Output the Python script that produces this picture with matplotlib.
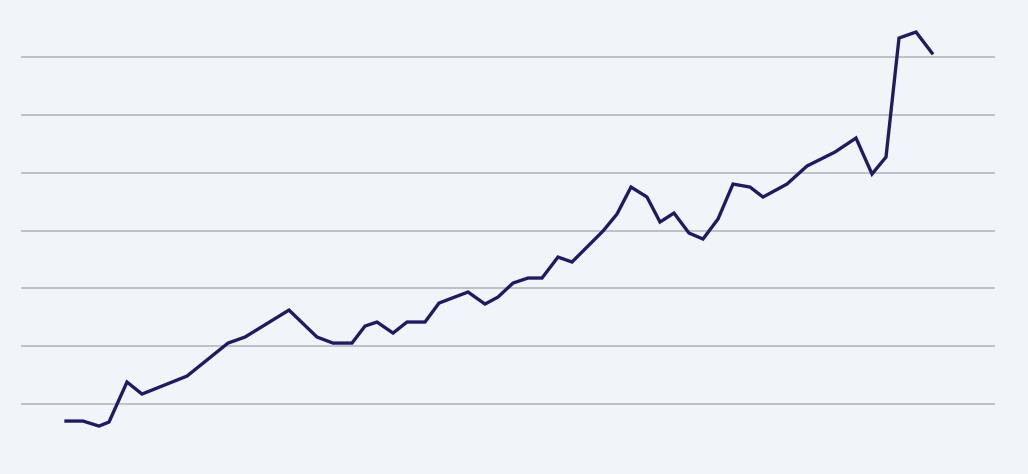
import numpy as np
import matplotlib.pyplot as plt

# Posiciones horizontales y valores de la serie
x_vals = [66, 83, 99, 109, 127, 142, 187, 228, 245, 289, 317, 333, 352, 365,
          377, 393, 407, 425, 439, 468, 485, 498, 513, 528, 542, 558, 572, 603,
          617, 631, 647, 660, 674, 689, 703, 718, 733, 750, 763, 787, 807, 835,
          856, 872, 886, 899, 916, 932]
y_vals = [7.06, 7.06, 6.19, 6.89, 13.81, 11.73, 14.84, 20.55, 21.59, 26.26,
          21.59, 20.55, 20.55, 23.49, 24.19, 22.28, 24.19, 24.19, 27.47, 29.38,
          27.30, 28.51, 30.93, 31.80, 31.80, 35.43, 34.57, 39.93, 42.87, 47.54,
          45.81, 41.49, 43.04, 39.58, 38.55, 42.01, 48.06, 47.54, 45.81, 48.06,
          51.18, 53.60, 56.02, 49.79, 52.73, 73.32, 74.36, 70.73]
grid_levels = [10, 20, 30, 40, 50, 60, 70]

bg = '#f1f5f9'
fig = plt.figure(figsize=(10.28, 4.74), dpi=100, facecolor=bg)
ax = fig.add_axes([0, 0, 1, 1])
ax.set_facecolor(bg)

# Líneas de referencia horizontales
for g in grid_levels:
    ax.plot([22, 994], [g, g], color='#b9bcc0', linewidth=1.3, zorder=1)

# Serie principal
ax.plot(x_vals, y_vals, color='#1f1b5f', linewidth=2.4, zorder=3,
        solid_joinstyle='miter')

ax.set_xlim(0, 1028)
ax.set_ylim(-2.1, 79.9)
ax.axis('off')

fig.savefig('out.png', dpi=100, facecolor=bg)
